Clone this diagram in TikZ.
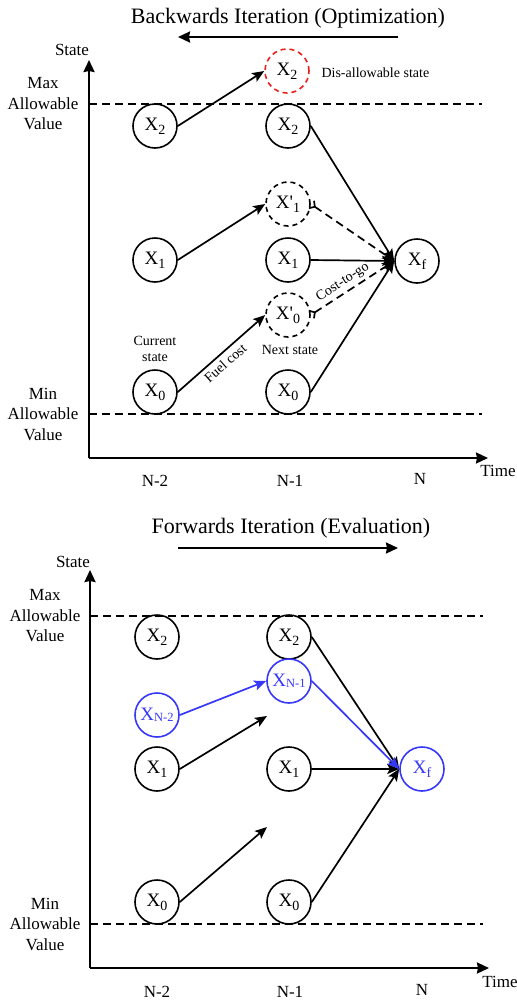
\documentclass[tikz,border=0pt]{standalone}
\usepackage{fontspec}
\setmainfont{Liberation Serif}
\usetikzlibrary{arrows.meta}
\definecolor{myblue}{RGB}{55,55,250}
\definecolor{myred}{RGB}{235,30,30}
\newcommand\lsub[1]{\raisebox{-0.45ex}{\fontsize{14}{14}\selectfont #1}}
\newcommand\nsub[1]{\raisebox{-0.1ex}{\fontsize{12.5}{12.5}\selectfont #1}}
\newcommand\prm{\textquotesingle}
\begin{document}
\begin{tikzpicture}[x=1pt,y=-1pt,
  st/.style={circle,draw,line width=1.6pt,minimum size=44pt,inner sep=0pt,font=\fontsize{19}{19}\selectfont},
  ghost/.style={st,dash pattern=on 5pt off 4pt},
  bluest/.style={st,draw=myblue,text=myblue},
  redst/.style={st,draw=myred,dash pattern=on 5pt off 4pt},
  arr/.style={line width=1.7pt,-{Stealth[length=12pt,width=10pt,inset=2.5pt]}},
  darr/.style={line width=1.7pt,dash pattern=on 8pt off 5pt,{Straight Barb[reversed,length=4pt,width=9pt]}-{Stealth[length=12pt,width=10pt,inset=2.5pt]}},
  axis/.style={line width=2.2pt,-{Stealth[length=12pt,width=11pt,inset=1pt]}},
  limit/.style={line width=1.7pt,dash pattern=on 8pt off 5pt},
  title/.style={font=\fontsize{22}{22}\selectfont},
  lim/.style={align=center,font=\fontsize{17}{20.5}\selectfont},
  axlab/.style={font=\fontsize{17}{17}\selectfont},
  small/.style={align=center,font=\fontsize{14}{16}\selectfont}
]
\useasboundingbox (0,0) rectangle (517,1002);

% ================= TOP: Backwards =================
\node[title] (t1) at (288,18) {Backwards Iteration (Optimization)};
\coordinate (t1a) at (398,37);
\coordinate (t1b) at (178,37);
\draw[axis] (t1a) -- (t1b);

\coordinate (o1) at (89,458);
\coordinate (y1) at (89,60);
\coordinate (x1) at (488,458);
\draw[axis] (o1) -- (y1);
\draw[axis] (o1) -- (x1);
\node[axlab] (s1) at (72,50) {State};
\node[axlab] (tm1) at (498,471) {Time};
\node[axlab] (n2a) at (155,481) {N-2};
\node[axlab] (n1a) at (290,481) {N-1};
\node[axlab] (na) at (420,479) {N};

\coordinate (mx1a) at (89,104); \coordinate (mx1b) at (482,104);
\coordinate (mn1a) at (89,414); \coordinate (mn1b) at (482,414);
\draw[limit] (mx1a) -- (mx1b);
\draw[limit] (mn1a) -- (mn1b);
\node[lim] (maxl1) at (43,104) {Max\\Allowable\\Value};
\node[lim] (minl1) at (43,414) {Min\\Allowable\\Value};

\node[st] (a2) at (155,126) {X\lsub{2}};
\node[st] (a1) at (155,260) {X\lsub{1}};
\node[st] (a0) at (155,392) {X\lsub{0}};
\node[redst] (bd) at (287,71) {X\lsub{2}};
\node[st] (b2) at (288,126) {X\lsub{2}};
\node[ghost] (b1p) at (288,204) {X\prm\lsub{1}};
\node[st] (b1) at (288,260) {X\lsub{1}};
\node[ghost] (b0p) at (288,315) {X\prm\lsub{0}};
\node[st] (b0) at (288,392) {X\lsub{0}};
\node[st] (cf) at (417,261) {X\lsub{f}};

\node[small,anchor=west] (dis) at (318,73) {Dis-allowable state};
\node[small] (cur) at (155,349) {Current\\state};
\node[small] (nxt) at (290,350) {Next state};

\draw[arr] (a2.east) -- (bd.west);
\draw[arr] (a1.east) -- (b1p.west);
\draw[arr] (a0.east) -- node[small,below,sloped,pos=0.47,inner sep=4pt] {Fuel cost} (b0p.west);
\draw[arr] (b2.east) -- (cf.west);
\draw[arr] (b1.east) -- (cf.west);
\draw[arr] (b0.east) -- (cf.west);
\draw[darr] (b1p.east) -- (cf.west);
\draw[darr] (b0p.east) -- node[small,above,sloped,pos=0.45,inner sep=3pt] {Cost-to-go} (cf.west);

% ================= BOTTOM: Forwards =================
\node[title] (t2) at (291,528) {Forwards Iteration (Evaluation)};
\coordinate (t2a) at (178,548);
\coordinate (t2b) at (398,548);
\draw[axis] (t2a) -- (t2b);

\coordinate (o2) at (90,968);
\coordinate (y2) at (90,570);
\coordinate (x2) at (489,968);
\draw[axis] (o2) -- (y2);
\draw[axis] (o2) -- (x2);
\node[axlab] (s2) at (73,562) {State};
\node[axlab] (tm2) at (500,982) {Time};
\node[axlab] (n2b) at (157,992) {N-2};
\node[axlab] (n1b) at (290,992) {N-1};
\node[axlab] (nb) at (422,990) {N};

\coordinate (mx2a) at (90,616); \coordinate (mx2b) at (483,616);
\coordinate (mn2a) at (90,924); \coordinate (mn2b) at (483,924);
\draw[limit] (mx2a) -- (mx2b);
\draw[limit] (mn2a) -- (mn2b);
\node[lim] (maxl2) at (45,616) {Max\\Allowable\\Value};
\node[lim] (minl2) at (45,924) {Min\\Allowable\\Value};

\node[st] (d2) at (157,637) {X\lsub{2}};
\node[bluest] (dn) at (157,715) {X\nsub{N-2}};
\node[st] (d1) at (157,769) {X\lsub{1}};
\node[st] (d0) at (157,902) {X\lsub{0}};
\node[st] (e2) at (289,637) {X\lsub{2}};
\node[bluest] (en) at (289,681) {X\nsub{N-1}};
\node[st] (e1) at (289,769) {X\lsub{1}};
\node[st] (e0) at (289,902) {X\lsub{0}};
\node[bluest] (ff) at (422,769) {X\lsub{f}};

\coordinate (fr1) at (267,716);
\coordinate (fr0) at (267,827);
\draw[arr] (d1.east) -- (fr1);
\draw[arr] (d0.east) -- (fr0);
\draw[arr] (e2.east) -- (ff.west);
\draw[arr] (e1.east) -- (ff.west);
\draw[arr] (e0.east) -- (ff.west);
\draw[arr,draw=myblue,fill=myblue] (dn.east) -- (en.west);
\draw[arr,draw=myblue,fill=myblue] (en.east) -- (ff.west);
\end{tikzpicture}
\end{document}
